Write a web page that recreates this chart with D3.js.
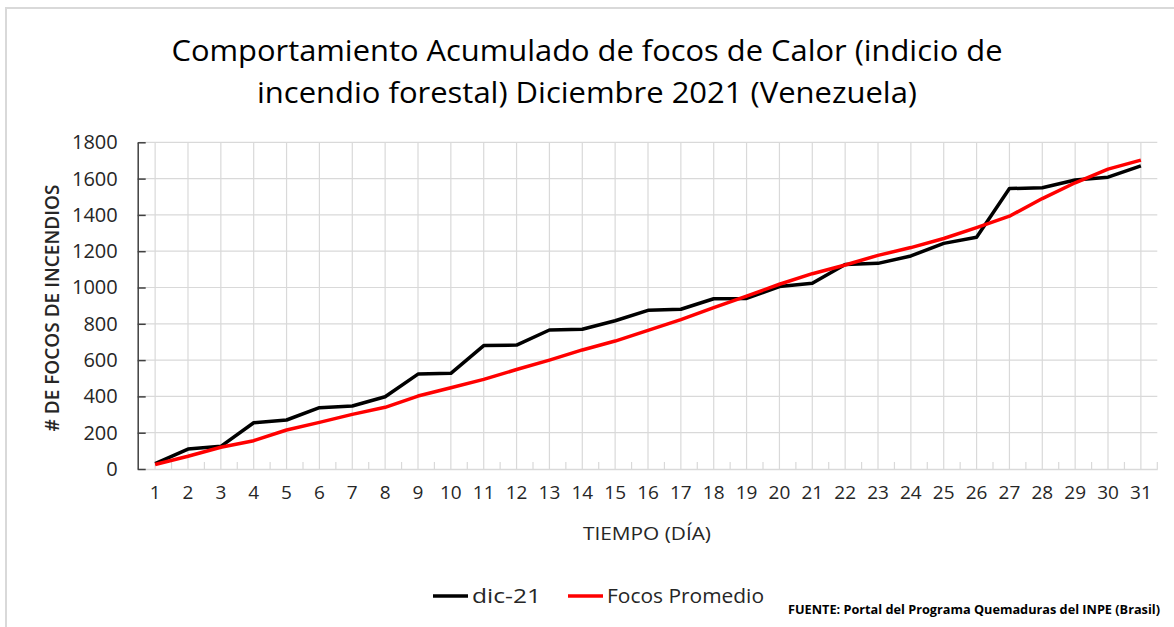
<!DOCTYPE html>
<html>
<head>
<meta charset="utf-8">
<script src="https://cdn.jsdelivr.net/npm/d3@7"></script>
<style>
    body { margin: 0; background: #ffffff; }
    text { font-family: "Open Sans", "Noto Sans", sans-serif; fill: #262626; }
</style>
</head>
<body>
<div class="chart"></div>
<script>
// Days of december and cumulative fire hotspots
const days = d3.range(1, 32).map(String);
const dic21 = [30, 110, 125, 255, 270, 338, 347, 398, 523, 527,
    680, 683, 766, 770, 817, 874, 880, 938, 940, 1005,
    1023, 1127, 1133, 1174, 1243, 1277, 1545, 1550, 1592, 1608, 1670];
const promedio = [25, 70, 120, 156, 215, 257, 301, 340, 402, 448,
    494, 548, 600, 656, 705, 764, 823, 889, 953, 1018,
    1076, 1124, 1177, 1220, 1270, 1330, 1393, 1490, 1577, 1652, 1702];
const yTicks = [0, 200, 400, 600, 800, 1000, 1200, 1400, 1600, 1800];

// Set sizes for the svg
let width = 1174;
let height = 627;

// Set margins of the plot area
let margin = {
    top: 142.3,
    left: 138.7,
    right: 1157.3,
    bottom: 469
};

// Create SVG
let svg = d3.select(".chart").append("svg")
    .attr("width", width)
    .attr("height", height);

// Grey frame round the chart
svg.append("rect")
    .attr("x", 6)
    .attr("y", 8)
    .attr("width", width + 20)
    .attr("height", height + 20)
    .attr("fill", "none")
    .attr("stroke", "#d9d9d9")
    .attr("stroke-width", 2);

// Create x scale
const xScale = d3.scaleBand()
    .domain(days)
    .range([margin.left, margin.right]);

// Create y scale
const yScale = d3.scaleLinear()
    .domain([0, 1800])
    .range([margin.bottom, margin.top]);

const xMid = d => xScale(d) + xScale.bandwidth() / 2;

// Horizontal gridlines
svg.append("g")
    .selectAll("line")
    .data(yTicks.slice(1))
    .enter()
    .append("line")
    .attr("x1", margin.left)
    .attr("x2", margin.right)
    .attr("y1", d => yScale(d))
    .attr("y2", d => yScale(d))
    .attr("stroke", "#d9d9d9")
    .attr("stroke-width", 1.2);

// Vertical gridlines at each day
svg.append("g")
    .selectAll("line")
    .data(days)
    .enter()
    .append("line")
    .attr("x1", xMid)
    .attr("x2", xMid)
    .attr("y1", margin.top)
    .attr("y2", margin.bottom)
    .attr("stroke", "#d9d9d9")
    .attr("stroke-width", 1.2);

// Add x axis, ticks between days pointing inwards
const xAxis = svg.append("g")
    .attr("transform", `translate(0, ${margin.bottom})`)
    .call(d3.axisBottom(xScale).tickSize(0).tickPadding(17));
xAxis.select(".domain")
    .attr("stroke", "#d9d9d9")
    .attr("stroke-width", 1.5);
xAxis.selectAll("text")
    .style("font-size", "19px")
    .style("fill", "#262626");
svg.append("g")
    .selectAll("line")
    .data(days.slice(1).concat(["end"]))
    .enter()
    .append("line")
    .attr("x1", d => d == "end" ? margin.right : xScale(d))
    .attr("x2", d => d == "end" ? margin.right : xScale(d))
    .attr("y1", margin.bottom - 7)
    .attr("y2", margin.bottom)
    .attr("stroke", "#d9d9d9")
    .attr("stroke-width", 1.2);

// Add y axis
const yAxis = svg.append("g")
    .attr("transform", `translate(${margin.left - 1}, 0)`)
    .call(d3.axisLeft(yScale).tickValues(yTicks).tickFormat(d3.format("d"))
        .tickSize(-8).tickSizeOuter(0).tickPadding(20));
yAxis.select(".domain")
    .attr("stroke", "#404040")
    .attr("stroke-width", 1.5);
yAxis.selectAll(".tick line")
    .attr("stroke", "#404040")
    .attr("stroke-width", 1.5);
yAxis.selectAll("text")
    .style("font-size", "20px")
    .style("fill", "#262626");

// Line generator
const line = d3.line()
    .x((d, i) => xMid(days[i]))
    .y(d => yScale(d));

// Create dic-21 line
svg.append("path")
    .datum(dic21)
    .attr("d", line)
    .attr("fill", "none")
    .attr("stroke", "#000000")
    .attr("stroke-width", 3.5)
    .attr("stroke-linejoin", "round");

// Create focos promedio line
svg.append("path")
    .datum(promedio)
    .attr("d", line)
    .attr("fill", "none")
    .attr("stroke", "#ff0000")
    .attr("stroke-width", 3.5)
    .attr("stroke-linejoin", "round");

// Title
svg.append("text")
    .attr("x", 587)
    .attr("y", 61)
    .attr("text-anchor", "middle")
    .attr("textLength", 831)
    .attr("lengthAdjust", "spacingAndGlyphs")
    .style("font-size", "29px")
    .style("fill", "#000000")
    .text("Comportamiento  Acumulado  de  focos  de  Calor  (indicio  de");
svg.append("text")
    .attr("x", 587)
    .attr("y", 103)
    .attr("text-anchor", "middle")
    .attr("textLength", 660)
    .attr("lengthAdjust", "spacingAndGlyphs")
    .style("font-size", "29px")
    .style("fill", "#000000")
    .text("incendio  forestal)  Diciembre  2021  (Venezuela)");

// Axis titles
svg.append("text")
    .attr("transform", "translate(59, 308) rotate(-90)")
    .attr("text-anchor", "middle")
    .attr("textLength", 247)
    .attr("lengthAdjust", "spacingAndGlyphs")
    .style("font-size", "19px")
    .style("font-weight", "600")
    .text("# DE FOCOS DE INCENDIOS");
svg.append("text")
    .attr("x", 647)
    .attr("y", 540)
    .attr("text-anchor", "middle")
    .attr("textLength", 128)
    .attr("lengthAdjust", "spacingAndGlyphs")
    .style("font-size", "18px")
    .text("TIEMPO (DÍA)");

// Legend
let legend = [
    { name: "dic-21", color: "#000000", x: 433, textLength: 69 },
    { name: "Focos Promedio", color: "#ff0000", x: 568, textLength: 157 }
];
let legendItems = svg.selectAll(".legend").data(legend).enter().append("g")
    .attr("class", "legend");
legendItems.append("line")
    .attr("x1", d => d.x)
    .attr("x2", d => d.x + 35)
    .attr("y1", 596)
    .attr("y2", 596)
    .attr("stroke", d => d.color)
    .attr("stroke-width", 3.5);
legendItems.append("text")
    .attr("x", d => d.x + 39)
    .attr("y", 603)
    .attr("textLength", d => d.textLength)
    .attr("lengthAdjust", "spacingAndGlyphs")
    .style("font-size", "20px")
    .text(d => d.name);

// Source
svg.append("text")
    .attr("x", 788)
    .attr("y", 614)
    .attr("textLength", 372)
    .attr("lengthAdjust", "spacingAndGlyphs")
    .style("font-size", "13px")
    .style("font-weight", "bold")
    .style("fill", "#000000")
    .text("FUENTE:  Portal del Programa Quemaduras del INPE (Brasil)");
</script>
</body>
</html>
